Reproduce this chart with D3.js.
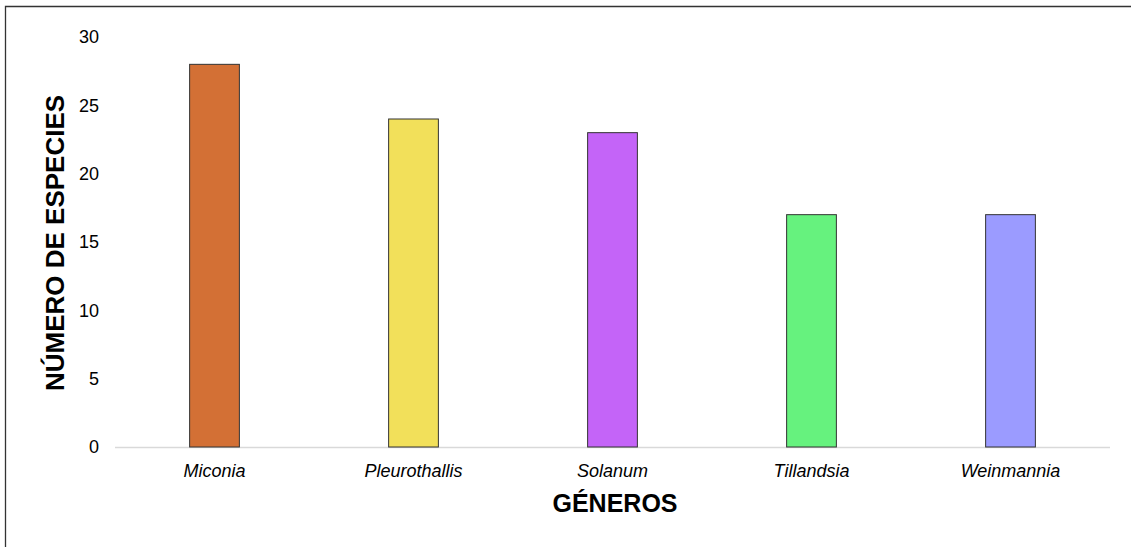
<!DOCTYPE html>
<html><head><meta charset="utf-8">
<script src="https://cdn.jsdelivr.net/npm/d3@7"></script>
<style>body{margin:0;background:#fff}svg{display:block;font-family:"Liberation Sans",Arial,sans-serif}</style>
</head><body>
<svg id="c" width="1131" height="547"></svg>
<script>
const categories = ["Miconia","Pleurothallis","Solanum","Tillandsia","Weinmannia"];
const values = [28,24,23,17,17];
const colors = ["#D37035","#F2E05A","#C464F8","#66F27E","#9B9BFF"];
const yTicks = [0,5,10,15,20,25,30];

const svg = d3.select("#c");
svg.append("path").attr("d","M1131,6.5H5.5V547").attr("fill","none").attr("stroke","#333").attr("stroke-width",1.3);

const x = d3.scaleBand().domain(categories).range([115,1110]).paddingInner(0.75).paddingOuter(0.375);
const y = d3.scaleLinear().domain([0,30]).range([447,37]);

svg.append("line").attr("x1",115).attr("x2",1110).attr("y1",y(0)+0.5).attr("y2",y(0)+0.5).attr("stroke","#d9d9d9").attr("stroke-width",1.5);

const yAxis = svg.append("g").attr("transform","translate(99,0)")
  .call(d3.axisLeft(y).tickValues(yTicks).tickSize(0).tickPadding(0));
yAxis.select(".domain").remove();
yAxis.attr("font-size",18).attr("font-family","Liberation Sans, Arial, sans-serif");
yAxis.selectAll("text").attr("fill","#000");

svg.selectAll("rect.bar").data(values).enter().append("rect").attr("class","bar")
  .attr("x",(d,i)=>x(categories[i])).attr("width",x.bandwidth())
  .attr("y",d=>y(d)).attr("height",d=>y(0)-y(d))
  .attr("fill",(d,i)=>colors[i]).attr("stroke","#333").attr("stroke-width",1);

const xAxis = svg.append("g").attr("transform",`translate(0,${y(0)})`)
  .call(d3.axisBottom(x).tickSize(0).tickPadding(17));
xAxis.select(".domain").remove();
xAxis.attr("font-size",18).attr("font-family","Liberation Sans, Arial, sans-serif");
xAxis.selectAll("text").attr("font-style","italic").attr("fill","#000");

svg.append("text").attr("x",615).attr("y",512).attr("text-anchor","middle")
  .attr("font-size",25).attr("font-weight","bold").text("GÉNEROS");
svg.append("text").attr("transform","translate(64,243) rotate(-90)").attr("text-anchor","middle")
  .attr("font-size",26).attr("font-weight","bold").text("NÚMERO DE ESPECIES");
</script>
</body></html>
